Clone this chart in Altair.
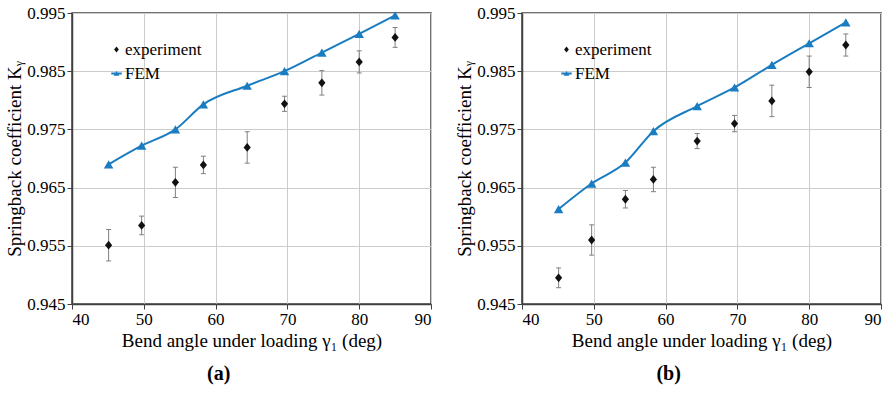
import altair as alt
import pandas as pd

# ---- data ----
angles_a = [45.1, 49.7, 54.4, 58.3, 64.4, 69.6, 74.8, 80.0, 85.0]
fem_a = [0.9690, 0.9722, 0.9750, 0.9793, 0.9825, 0.9850, 0.9882, 0.9914, 0.9946]
exp_a = [0.9551, 0.9585, 0.9659, 0.9689, 0.9719, 0.9794, 0.9830, 0.9866, 0.9908]
err_a = [0.0027, 0.0016, 0.0026, 0.0015, 0.0027, 0.0013, 0.0021, 0.0019, 0.0017]

angles_b = [45.1, 49.7, 54.4, 58.3, 64.4, 69.6, 74.8, 80.0, 85.1]
fem_b = [0.9613, 0.9657, 0.9693, 0.9747, 0.9790, 0.9822, 0.9861, 0.9898, 0.9934]
exp_b = [0.9495, 0.9560, 0.9630, 0.9664, 0.9730, 0.9760, 0.9799, 0.9849, 0.9895]
err_b = [0.0017, 0.0026, 0.0015, 0.0021, 0.0013, 0.0014, 0.0027, 0.0027, 0.0019]

series_names = ["experiment", "FEM"]
x_ticks = [40, 50, 60, 70, 80, 90]
y_ticks = [0.945, 0.955, 0.965, 0.975, 0.985, 0.995]
panel_labels = ["(a)", "(b)"]

BLUE = "#1a7dc1"
BLACK = "#111111"
FONT = "'Liberation Serif', 'Times New Roman', 'DejaVu Serif', serif"
DIAMOND = "M0,-0.55L0.45,0L0,0.55L-0.45,0Z"
FEM_SYM = "M-1,-0.17L1,-0.17L1,0.17L-1,0.17ZM-0.55,0.45L0,-0.5L0.55,0.45Z"


def panel(xs, fem, exp, err, label):
    df_exp = pd.DataFrame({
        "angle": xs,
        "K": exp,
        "lo": [v - e for v, e in zip(exp, err)],
        "hi": [v + e for v, e in zip(exp, err)],
        "series": ["experiment"] * len(xs),
    })
    df_fem = pd.DataFrame({"angle": xs, "K": fem})

    x = alt.X("angle:Q", scale=alt.Scale(domain=[40, 90], nice=False, zero=False),
              axis=alt.Axis(values=x_ticks, title="Bend angle under loading γ₁ (deg)",
                            titlePadding=4, labelFont=FONT, titleFont=FONT))
    y = alt.Y("K:Q", scale=alt.Scale(domain=[0.945, 0.995], nice=False, zero=False),
              axis=alt.Axis(values=y_ticks, format=".3f", labelFont=FONT, titleFont=FONT,
                            title="Springback coefficient Kᵧ", titlePadding=2))

    leg = alt.Legend(title=None, orient="none", legendX=36, legendY=28,
                     symbolSize=110, labelFont=FONT, labelFontSize=17,
                     labelColor="black", labelOffset=0, rowPadding=6, padding=0)

    bars = alt.Chart(df_exp).mark_rule(color="#7f7f7f", strokeWidth=1).encode(
        x=x, y="lo:Q", y2="hi:Q")
    cap_lo = alt.Chart(df_exp).mark_tick(orient="horizontal", size=5, thickness=1,
                                         color="#7f7f7f", opacity=1).encode(x=x, y="lo:Q")
    cap_hi = alt.Chart(df_exp).mark_tick(orient="horizontal", size=5, thickness=1,
                                         color="#7f7f7f", opacity=1).encode(x=x, y="hi:Q")
    line = alt.Chart(df_fem).mark_line(color=BLUE, strokeWidth=2,
                                       interpolate="monotone").encode(x=x, y=y)
    tri = alt.Chart(df_fem).mark_point(shape="triangle-up", filled=True, color=BLUE,
                                       size=90, opacity=1).encode(x=x, y=y)
    pts = alt.Chart(df_exp).mark_point(filled=True, size=256, opacity=1).encode(
        x=x, y=y,
        shape=alt.Shape("series:N", scale=alt.Scale(domain=series_names,
                                                    range=[DIAMOND, FEM_SYM]), legend=leg),
        fill=alt.Fill("series:N", scale=alt.Scale(domain=series_names,
                                                  range=[BLACK, BLUE]), legend=leg),
    )
    return alt.layer(bars, cap_lo, cap_hi, line, tri, pts).properties(
        width=359, height=291,
        title=alt.TitleParams(label, orient="bottom", anchor="middle", frame="bounds",
                              fontSize=20, fontWeight="bold", font=FONT, color="black",
                              offset=14),
    )


left = panel(angles_a, fem_a, exp_a, err_a, panel_labels[0])
right = panel(angles_b, fem_b, exp_b, err_b, panel_labels[1])

chart = alt.hconcat(left, right, spacing=22).resolve_scale(
    shape="independent", fill="independent"
).resolve_legend(
    shape="independent", fill="independent"
).configure(
    font=FONT
).configure_view(
    stroke="#404040", strokeWidth=1.5
).configure_axis(
    grid=True, gridColor="#cccccc", gridWidth=1,
    domainColor="#404040", domainWidth=1.5,
    tickColor="#404040", tickSize=5,
    labelFont=FONT, labelFontSize=17, labelColor="black",
    titleFont=FONT, titleFontSize=19, titleFontWeight="normal", titleColor="black",
).configure_legend(
    labelFont=FONT
).properties(background="white", padding={"left": 5, "top": 3, "right": 5, "bottom": 5})

chart.save("out.html", embed_options={"renderer": "svg", "actions": False})
